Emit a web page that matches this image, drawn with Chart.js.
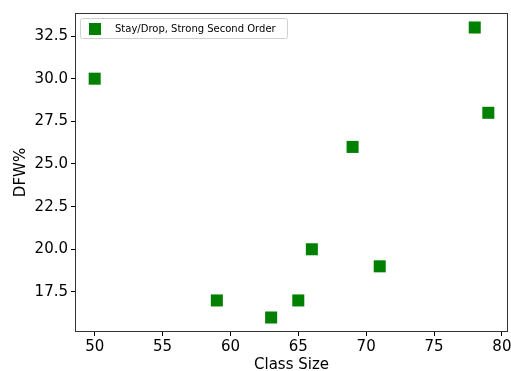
<!DOCTYPE html>
<html><head><meta charset="utf-8">
<script src="https://cdn.jsdelivr.net/npm/chart.js@4/dist/chart.umd.min.js"></script>
<style>html,body{margin:0;padding:0;background:#fff}#c{display:block}</style>
</head><body>
<canvas id="c" width="511" height="371"></canvas>
<script>
const seriesLabel = "Stay/Drop, Strong Second Order";
const classSize = [50, 59, 63, 65, 66, 69, 71, 78, 79];
const dfwPct    = [30, 17, 16, 17, 20, 26, 19, 33, 28];
const xTicks = [50, 55, 60, 65, 70, 75, 80];
const yTicks = [17.5, 20.0, 22.5, 25.0, 27.5, 30.0, 32.5];
const xTitle = "Class Size";
const yTitle = "DFW%";

const FONT = "'DejaVu Sans', sans-serif";
const GREEN = '#008000';

const framePlugin = {
  id: 'frame',
  afterDraw(chart) {
    const {ctx, chartArea: a} = chart;
    ctx.save();
    ctx.strokeStyle = '#333';
    ctx.lineWidth = 1;
    ctx.strokeRect(Math.round(a.left)+0.5, Math.round(a.top)+0.5, Math.round(a.right-a.left)-1, Math.round(a.bottom-a.top)-1);
    // legend
    const lx = a.left + 5.5, ly = a.top + 5.5, lw = 207, lh = 20;
    ctx.fillStyle = 'rgba(255,255,255,0.8)';
    ctx.strokeStyle = '#d0d0d0';
    ctx.beginPath();
    if (ctx.roundRect) ctx.roundRect(lx, ly, lw, lh, 2); else ctx.rect(lx, ly, lw, lh);
    ctx.fill(); ctx.stroke();
    ctx.fillStyle = GREEN;
    ctx.fillRect(a.left + 14, a.top + 10, 12, 12);
    ctx.fillStyle = '#000';
    ctx.font = "10px " + FONT;
    ctx.textBaseline = 'middle';
    ctx.textAlign = 'left';
    ctx.fillText(chart.data.datasets[0].label, a.left + 40, a.top + 16);
    ctx.restore();
  }
};

new Chart(document.getElementById('c'), {
  type: 'scatter',
  data: {
    datasets: [{
      label: seriesLabel,
      data: classSize.map((x, i) => ({x, y: dfwPct[i]})),
      backgroundColor: GREEN,
      borderColor: GREEN,
      borderWidth: 0,
      pointStyle: 'rect',
      pointRadius: 8.5,
      pointHoverRadius: 8.5
    }]
  },
  options: {
    responsive: false,
    animation: false,
    layout: {autoPadding: false, padding: {left: 0, right: 3, top: 13, bottom: 0}},
    plugins: {legend: {display: false}, tooltip: {enabled: false}},
    scales: {
      x: {
        type: 'linear', min: 48.55, max: 80.45,
        afterBuildTicks(s) { s.ticks = xTicks.map(v => ({value: v})); },
        afterFit(s) { s.height = 39; s.paddingLeft = 0; s.paddingRight = 0; },
        grid: {display: true, drawOnChartArea: false, drawTicks: true, tickLength: 4, color: '#000', tickWidth: 1},
        border: {display: false},
        ticks: {color: '#000', font: {family: FONT, size: 15}, padding: 2, maxRotation: 0,
          callback: v => String(v)},
        title: {display: true, text: xTitle, color: '#000', font: {family: FONT, size: 15}, padding: {top: 0, bottom: -3}}
      },
      y: {
        type: 'linear', min: 15.15, max: 33.85,
        afterBuildTicks(s) { s.ticks = yTicks.map(v => ({value: v})); },
        afterFit(s) { s.width = 75; s.paddingTop = 0; s.paddingBottom = 0; },
        grid: {display: true, drawOnChartArea: false, drawTicks: true, tickLength: 4, color: '#000', tickWidth: 1},
        border: {display: false},
        ticks: {color: '#000', font: {family: FONT, size: 15}, padding: 3,
          callback: v => v.toFixed(1)},
        title: {display: true, text: yTitle, color: '#000', font: {family: FONT, size: 15}, padding: {top: 12, bottom: 0}}
      }
    }
  },
  plugins: [framePlugin]
});
</script>
</body></html>
